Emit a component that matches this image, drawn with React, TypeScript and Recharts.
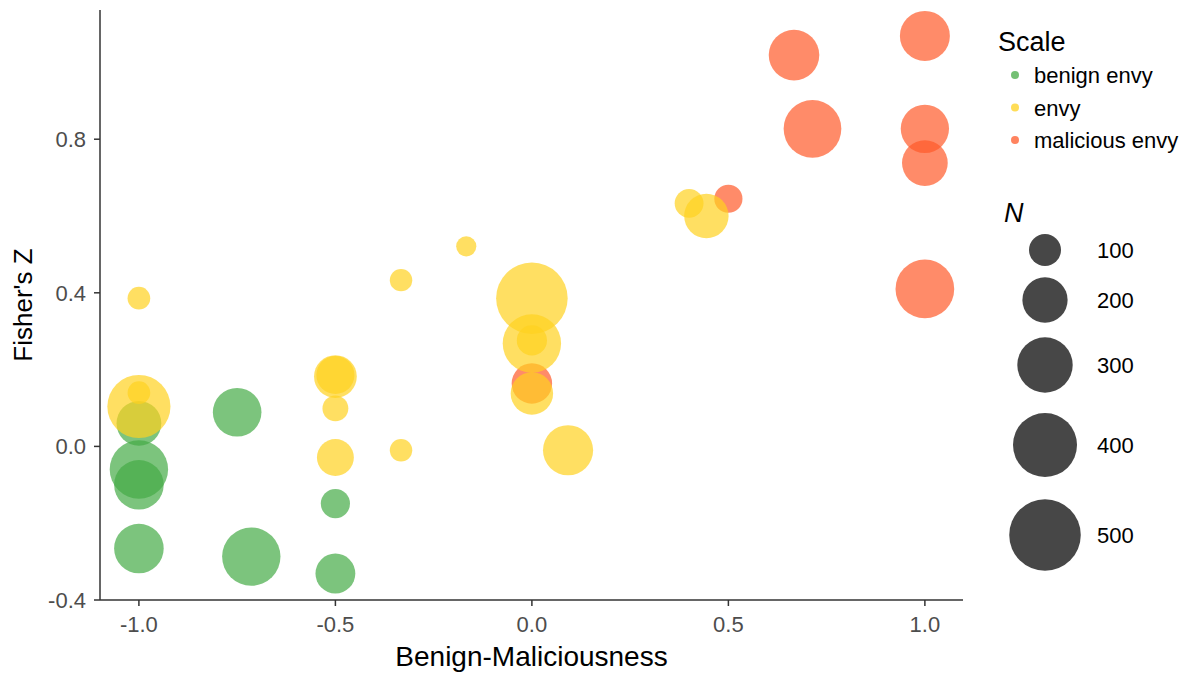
import React from 'react';
import { ScatterChart, Scatter, XAxis, YAxis, ZAxis, Legend } from 'recharts';

// [benign-maliciousness, fisher z, N]
const benignEnvy: [number, number, number][] = [
  [-1, -0.266, 254],
  [-1, -0.06, 352],
  [-1, -0.1, 254],
  [-1, 0.06, 207],
  [-0.75, 0.089, 244],
  [-0.714, -0.287, 352],
  [-0.5, -0.149, 88],
  [-0.5, -0.331, 164],
];

const envy: [number, number, number][] = [
  [-1, 0.386, 53],
  [-1, 0.104, 412],
  [-1, 0.14, 53],
  [-0.5, 0.182, 189],
  [-0.5, 0.186, 150],
  [-0.5, 0.099, 69],
  [-0.5, -0.029, 141],
  [-0.333, 0.433, 52],
  [-0.167, 0.521, 42],
  [-0.333, -0.01, 52],
  [0, 0.386, 529],
  [0, 0.268, 352],
  [0, 0.276, 94],
  [0, 0.138, 186],
  [0.092, -0.01, 260],
  [0.4, 0.633, 86],
  [0.444, 0.6, 204],
];

const maliciousEnvy: [number, number, number][] = [
  [0, 0.164, 169],
  [0.5, 0.645, 82],
  [0.667, 1.019, 264],
  [0.714, 0.827, 344],
  [1, 1.069, 258],
  [1, 0.827, 241],
  [1, 0.738, 216],
  [1, 0.41, 356],
];

const xTicks = [-1, -0.5, 0, 0.5, 1];
const yTicks = [-0.4, 0, 0.4, 0.8];
const sizeBreaks = [100, 200, 300, 400, 500];

const GREEN = '#45ab46';
const YELLOW = '#ffd21f';
const RED = '#ff5a2a';

const FONT = '"Liberation Sans", Arial, sans-serif';
const AREA_PER_N = Math.PI * 1.6 * 1.6;

const toRows = (d: [number, number, number][]) => d.map(([x, y, n]) => ({ x, y, n }));

function Bubble(props: any) {
  const { cx, cy, width, fill } = props;
  if (cx == null || cy == null) return null;
  return <circle cx={cx} cy={cy} r={width / 2} fill={fill} fillOpacity={0.7} />;
}

function LegendBox() {
  const scaleItems = [
    { label: 'benign envy', color: GREEN },
    { label: 'envy', color: YELLOW },
    { label: 'malicious envy', color: RED },
  ];
  const sizeY = [250, 300, 365, 445, 535];
  return (
    <svg width={240} height={600} style={{ position: 'absolute', left: 962, top: 0, fontFamily: FONT }}>
      <text x={36} y={51} fontSize={27} fill="#000">Scale</text>
      {scaleItems.map((it, i) => (
        <g key={it.label}>
          <circle cx={53} cy={75 + i * 32.5} r={4} fill={it.color} fillOpacity={0.75} />
          <text x={72} y={83 + i * 32.5} fontSize={22} fill="#000">{it.label}</text>
        </g>
      ))}
      <text x={42} y={222} fontSize={27} fontStyle="italic" fill="#000">N</text>
      {sizeBreaks.map((n, i) => (
        <g key={n}>
          <circle cx={83} cy={sizeY[i]} r={Math.sqrt((n * AREA_PER_N) / Math.PI)} fill="#333" fillOpacity={0.9} />
          <text x={135} y={sizeY[i] + 8} fontSize={22} fill="#000">{n}</text>
        </g>
      ))}
    </svg>
  );
}

export default function App() {
  return (
    <div style={{ position: 'absolute', left: 0, top: 0, width: 1202, height: 675, background: '#fff', fontFamily: FONT }}>
      <ScatterChart width={1202} height={675} margin={{ top: 10, right: 239, bottom: 0, left: 0 }}>
        <XAxis
          type="number"
          dataKey="x"
          domain={[-1.099, 1.097]}
          ticks={xTicks}
          tickFormatter={(v: number) => v.toFixed(1)}
          height={75}
          stroke="#333"
          strokeWidth={1.5}
          tickSize={6}
          tickMargin={10}
          fontSize={22}
          tick={{ fill: '#4d4d4d', fontSize: 22, fontFamily: FONT }}
          label={{ value: 'Benign-Maliciousness', position: 'insideBottom', offset: 9, fill: '#000', fontSize: 28, fontFamily: FONT }}
        />
        <YAxis
          type="number"
          dataKey="y"
          domain={[-0.4, 1.1365]}
          ticks={yTicks}
          tickFormatter={(v: number) => v.toFixed(1)}
          width={100}
          stroke="#333"
          strokeWidth={1.5}
          tickSize={6}
          tickMargin={8}
          fontSize={22}
          tick={{ fill: '#4d4d4d', fontSize: 22, fontFamily: FONT }}
          label={{ value: "Fisher's Z", angle: -90, position: 'insideLeft', offset: 23, fill: '#000', fontSize: 26, fontFamily: FONT, style: { textAnchor: 'middle' } }}
        />
        <ZAxis type="number" dataKey="n" domain={[0, 500]} range={[0, 500 * AREA_PER_N]} />
        <Scatter name="benign envy" data={toRows(benignEnvy)} fill={GREEN} shape={Bubble} isAnimationActive={false} />
        <Scatter name="malicious envy" data={toRows(maliciousEnvy)} fill={RED} shape={Bubble} isAnimationActive={false} />
        <Scatter name="envy" data={toRows(envy)} fill={YELLOW} shape={Bubble} isAnimationActive={false} />
        <Legend content={() => null} />
      </ScatterChart>
      <LegendBox />
    </div>
  );
}
